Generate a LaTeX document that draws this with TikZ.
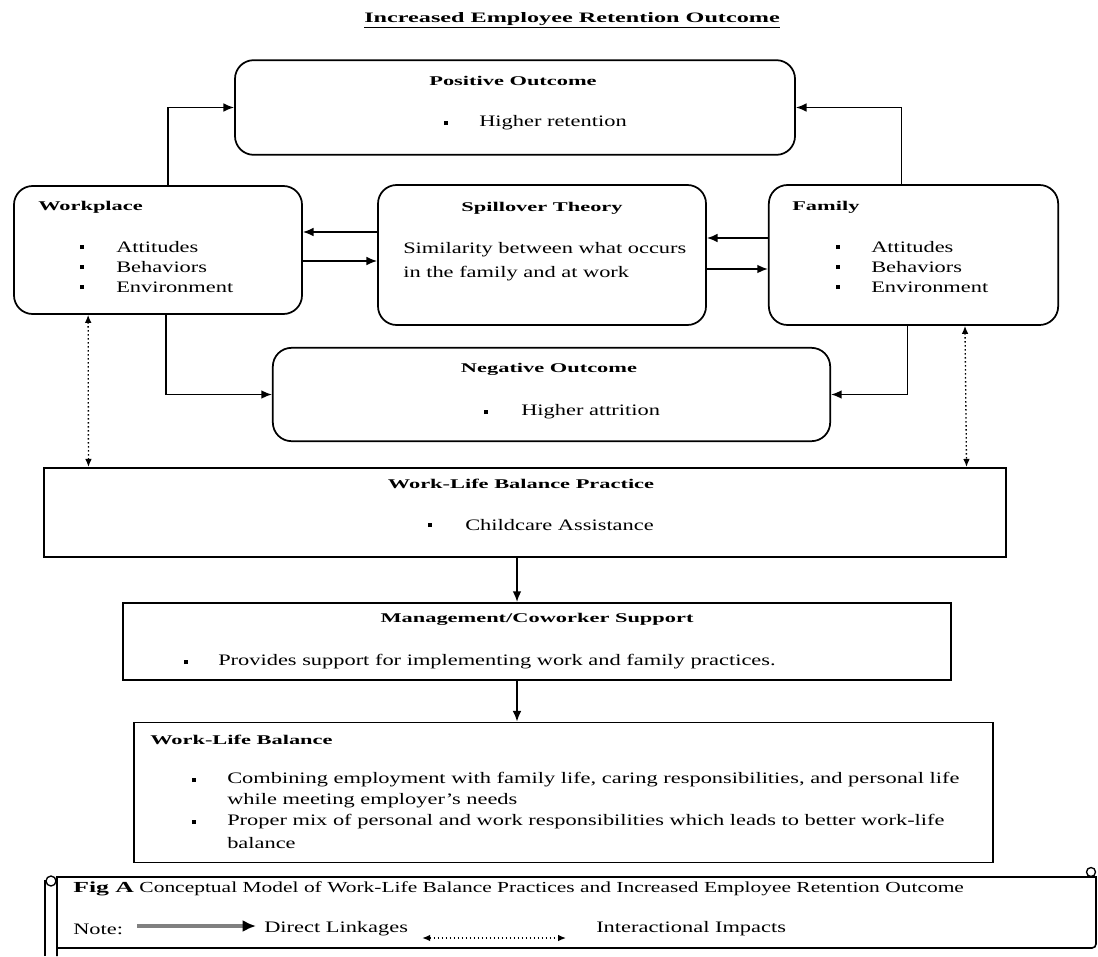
\documentclass[tikz,border=0pt]{standalone}
\usepackage{fontspec}
\setmainfont{Liberation Serif}[FakeStretch=1.4,BoldFeatures={FakeStretch=1.68}]
\usetikzlibrary{positioning}
\usetikzlibrary{arrows,arrows.meta}
\usetikzlibrary{calc}
\tikzstyle{rbox}=[draw,rounded corners=14pt,line width=1.3pt,inner sep=0pt]
\tikzstyle{sbox}=[draw,line width=1.3pt,inner sep=0pt]
\tikzstyle{head}=[font=\bfseries,inner sep=0pt]
\tikzstyle{txt}=[inner sep=0pt,anchor=west]
\tikzstyle{bul}=[inner sep=0pt]
\tikzstyle{direct}=[-{Latex[length=8pt,width=6.5pt]},line width=1.2pt]
\tikzstyle{interact}=[{Latex[length=6pt,width=5pt]}-{Latex[length=6pt,width=5pt]},dotted,line width=1pt]
\newcommand{\sqb}{\rule{3.2pt}{3.2pt}}

\begin{document}
\begin{tikzpicture}[x=0.75pt,y=-0.75pt,font=\fontsize{12}{15}\selectfont]

  \useasboundingbox (0,0) rectangle (1098,956);

  \node[head,font=\bfseries\fontsize{10.8}{14}\selectfont] (title) at (572,20) {\underline{Increased Employee Retention Outcome}};

% boxes
  \node[rbox,minimum width=420pt,minimum height=71pt] (pos) at (515,107.5) {};
  \node[rbox,minimum width=216pt,minimum height=96pt] (work) at (158,250) {};
  \node[rbox,minimum width=246pt,minimum height=105pt] (spill) at (542,255) {};
  \node[rbox,minimum width=217pt,minimum height=105pt] (fam) at (913.5,255) {};
  \node[rbox,minimum width=418pt,minimum height=70pt] (neg) at (551.5,394.5) {};
  \node[sbox,minimum width=721pt,minimum height=67pt] (wlbp) at (525,512.5) {};
  \node[sbox,minimum width=621pt,minimum height=58pt] (mgmt) at (537,641.5) {};
  \node[sbox,minimum width=644pt,minimum height=105pt] (wlb) at (563.5,792.5) {};

% box texts
  \node[head] (posT) at (513,81) {Positive Outcome};
  \node[bul] (posB) at (446,123) {\sqb};
  \node[txt] (posL) at (479,123) {Higher retention};

  \node[head,anchor=west] (workT) at (38,207) {Workplace};
  \node[head,anchor=west] (famT) at (792,207) {Family};
  \foreach \y/\t in {247/Attitudes, 267/Behaviors, 287/Environment}{
    \node[bul] (wb\y) at (82,\y) {\sqb};
    \node[txt] (wt\y) at (116,\y) {\t};
    \node[bul] (fb\y) at (838,\y) {\sqb};
    \node[txt] (ft\y) at (871,\y) {\t};
  }

  \node[head] (spillT) at (542,208) {Spillover Theory};
  \node[txt] (spillL1) at (403,250) {Similarity between what occurs};
  \node[txt] (spillL2) at (403,274) {in the family and at work};

  \node[head] (negT) at (549,369) {Negative Outcome};
  \node[bul] (negB) at (486,412) {\sqb};
  \node[txt] (negL) at (521,412) {Higher attrition};

  \node[head] (wlbpT) at (521,484) {Work-Life Balance Practice};
  \node[bul] (wlbpB) at (430,525) {\sqb};
  \node[txt] (wlbpL) at (465,525) {Childcare Assistance};

  \node[head] (mgmtT) at (537,619) {Management/Coworker Support};
  \node[bul] (mgmtB) at (186,662) {\sqb};
  \node[txt] (mgmtL) at (218,662) {Provides support for implementing work and family practices.};

  \node[head,anchor=west] (wlbT) at (150,740) {Work-Life Balance};
  \node[bul] (wlbB1) at (194,780) {\sqb};
  \node[txt] (wlbL1) at (227,780) {Combining employment with family life, caring responsibilities, and personal life};
  \node[txt] (wlbL2) at (227,801) {while meeting employer’s needs};
  \node[bul] (wlbB2) at (194,822) {\sqb};
  \node[txt] (wlbL3) at (227,822) {Proper mix of personal and work responsibilities which leads to better work-life};
  \node[txt] (wlbL4) at (227,843) {balance};

% connectors
  \draw[direct] ($(work.north)+(10,0)$) |- (pos.west);
  \draw[direct] ($(fam.north)+(-12,0)$) |- (pos.east);
  \draw[direct] (spill.west |- 0,232) -- (work.east |- 0,232);
  \draw[direct] (work.east |- 0,261) -- (spill.west |- 0,261);
  \draw[direct] (fam.west |- 0,238) -- (spill.east |- 0,238);
  \draw[direct] (spill.east |- 0,269) -- (fam.west |- 0,269);
  \draw[direct] ($(work.south)+(8,0)$) |- (neg.west);
  \draw[direct] ($(fam.south)+(-6,0)$) |- (neg.east);
  \draw[interact] ($(work.south west)+(75,0)$) -- ($(wlbp.north west)+(45,0)$);
  \draw[interact] ($(fam.south west)+(197,0)$) -- ($(wlbp.north east)+(-40,0)$);
  \draw[direct] (wlbp.south -| 517,0) -- (mgmt.north -| 517,0);
  \draw[direct] (mgmt.south -| 517,0) -- (wlb.north -| 517,0);

% caption scroll
  \draw[line width=1.2pt] (45,956) -- (45,880);
  \draw[line width=1.2pt] (57,956) -- (57,877) -- (1096,877) -- (1096,944) [rounded corners=3pt] -- (1096,948) -- (57,948);
  \draw[line width=1pt] (51,881) circle (5);
  \draw[line width=1pt] (1091,872) circle (4.5);

  \node[txt,font=\fontsize{11.5}{14}\selectfont] (figA) at (73,889) {\textbf{Fig A} Conceptual Model of Work-Life Balance Practices and Increased Employee Retention Outcome};
  \node[txt] (note) at (73,929) {Note:};
  \node[txt] (dirL) at (264,929) {Direct Linkages};
  \node[txt] (intL) at (596,929) {Interactional Impacts};
  \draw[line width=2.4pt,gray,-{Latex[black,length=10pt,width=9pt]}] (note.east) ++(14,-3) -- ($(dirL.west)+(-8,-3)$);
  \draw[interact] ($(dirL.east)+(0,9)$) ++(14,0) -- ($(intL.west)+(-30,9)$);

\end{tikzpicture}
\end{document}
